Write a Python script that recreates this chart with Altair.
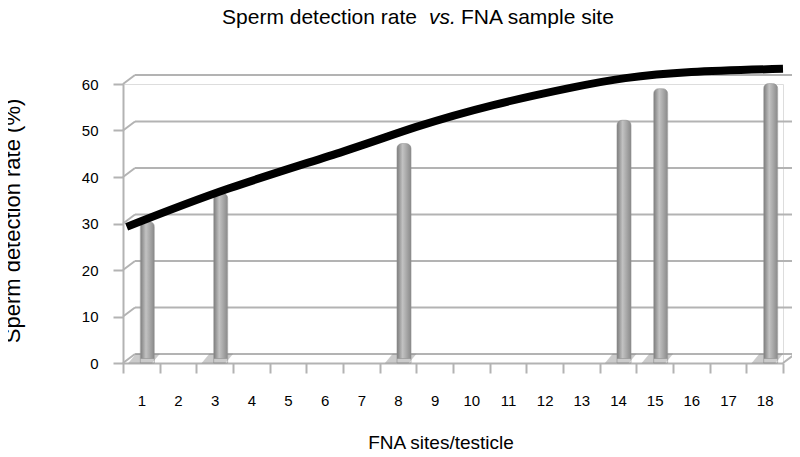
import altair as alt
import pandas as pd

# ---- data ----
sites = [str(i) for i in range(1, 19)]
bar_sites = ["1", "3", "8", "14", "15", "18"]
bar_rates = [30.4, 36.5, 47.2, 52.2, 59.0, 60.1]
trend_pos = [0.6, 3.4, 6.5, 8.5, 10.6, 12.7, 14.2, 16.0, 18.5]
trend_rates = [28.3, 36.6, 44.5, 49.8, 54.5, 58.2, 60.3, 61.6, 62.3]
grid_values = [0, 10, 20, 30, 40, 50, 60]

# ---- layout ----
W, H = 660, 279
DX, DY = 12, 9          # depth of the pseudo-3D back wall (px)
UNIT = H / 60.0
FONT = "Liberation Sans"
GRID = "#b3b3b3"

bars_df = pd.DataFrame({"site": bar_sites, "rate": bar_rates})
trend_df = pd.DataFrame({"pos": trend_pos, "rate": trend_rates})
grid_df = pd.DataFrame({"v": grid_values})
one = pd.DataFrame({"a": [0]})

yscale = alt.Scale(domain=[0, 60], nice=False, zero=True)
yaxis = alt.Axis(title=None, values=grid_values, tickSize=10, tickWidth=2,
                 tickColor=GRID, domainColor=GRID, domainWidth=2,
                 labelPadding=15, labelFontSize=15, labelColor="black",
                 labelFont=FONT, grid=False)
xscale = alt.Scale(domain=sites, paddingInner=0, paddingOuter=0)
xaxis = alt.Axis(title=None, labelAngle=0, tickBand="extent", tickSize=10,
                 tickWidth=2, tickColor=GRID, domainColor=GRID, domainWidth=2,
                 labelPadding=20, labelFontSize=15, labelColor="black",
                 labelFont=FONT, grid=False)

grid = alt.Chart(grid_df).mark_rule(color=GRID, strokeWidth=2, yOffset=-DY).encode(
    y=alt.Y("v:Q", scale=yscale, axis=yaxis),
    x=alt.value(DX), x2=alt.value(W + DX),
)
diag = alt.Chart(grid_df).transform_calculate(v2=f"datum.v + {DY / UNIT}").mark_rule(
    color=GRID, strokeWidth=2
).encode(
    x=alt.value(0), x2=alt.value(DX),
    y=alt.Y("v:Q", scale=yscale), y2="v2:Q",
)
floor_edge = alt.Chart(one).transform_calculate(v="0", v2=f"{DY / UNIT}").mark_rule(
    color=GRID, strokeWidth=2
).encode(
    x=alt.value(W), x2=alt.value(W + DX),
    y=alt.Y("v:Q", scale=yscale), y2="v2:Q",
)

shadow = alt.Chart(bars_df).mark_point(
    shape="M-1.3,0.35 L0.5,0.35 L1.1,-0.35 L-0.7,-0.35 Z", size=700, filled=True,
    color="#8c8c8c", opacity=0.45, xOffset=4, yOffset=-4.5, strokeWidth=0,
).encode(
    x=alt.X("site:O", scale=xscale, axis=xaxis),
    y=alt.datum(0),
)

gradient = {
    "gradient": "linear", "x1": 0, "x2": 1, "y1": 0, "y2": 0,
    "stops": [
        {"offset": 0, "color": "#7c7c7c"},
        {"offset": 0.4, "color": "#c2c2c2"},
        {"offset": 1, "color": "#8a8a8a"},
    ],
}

bars = alt.Chart(bars_df).mark_bar(
    size=14, xOffset=6, yOffset=-4.5, color=gradient,
    stroke="#8f8f8f", strokeWidth=0.6,
    cornerRadiusTopLeft=5, cornerRadiusTopRight=5,
).encode(
    x=alt.X("site:O", scale=xscale, axis=xaxis),
    y=alt.Y("rate:Q", scale=yscale),
)

trend = alt.Chart(trend_df).mark_line(
    color="black", strokeWidth=8, interpolate="natural", strokeCap="butt", yOffset=-4.5
).encode(
    x=alt.X("pos:Q", scale=alt.Scale(domain=[0.5, 18.5], nice=False, zero=False), axis=None),
    y=alt.Y("rate:Q", scale=yscale),
)

def label(text, x, y, size, align="left", angle=0, style="normal", baseline="alphabetic"):
    return alt.Chart(one).mark_text(
        text=text, font=FONT, fontSize=size, align=align, angle=angle,
        fontStyle=style, baseline=baseline, color="black",
    ).encode(x=alt.value(x), y=alt.value(y))

t1 = label("Sperm detection rate", 294, -60, 21, align="right")
t2 = label("vs.", 306, -60, 21, style="italic")
t3 = label("FNA sample site", 338, -60, 21)
xt = label("FNA sites/testicle", 318, 365, 19, align="center")
yt = label("Sperm detection rate (%)", -110, 137, 22, align="center", angle=270,
           baseline="middle")

base = alt.layer(grid, diag, floor_edge, shadow, bars)

chart = alt.layer(base, trend, t1, t2, t3, xt, yt).resolve_scale(
    x="independent"
).properties(
    width=W, height=H,
    autosize=alt.AutoSizeParams(type="none"),
    padding={"left": 115, "top": 76, "right": 9, "bottom": 86},
    background="white",
).configure_view(stroke=None).configure(font=FONT)

chart.save("out.html", embed_options={"renderer": "svg", "actions": False})
